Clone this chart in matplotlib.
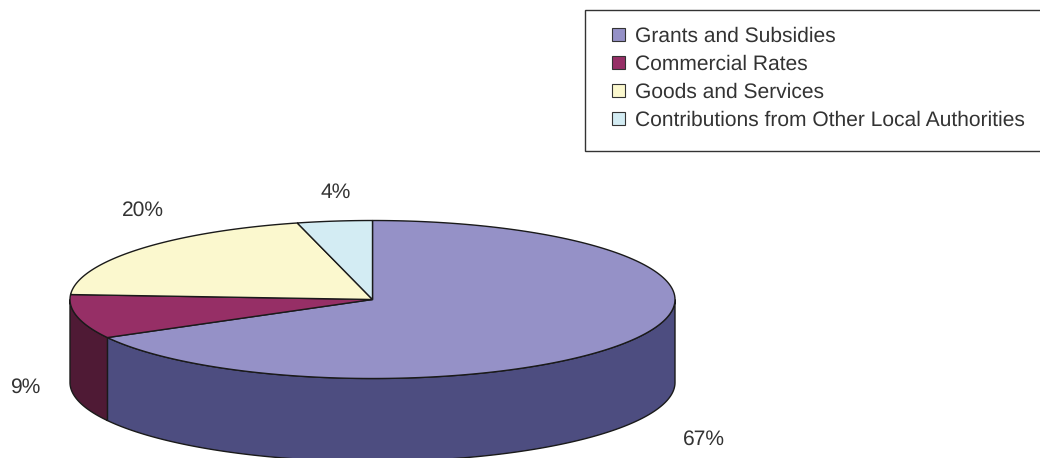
import numpy as np
import matplotlib
matplotlib.use("Agg")
import matplotlib.pyplot as plt
from matplotlib.patches import Patch, Polygon, Rectangle

categories = ["Grants and Subsidies", "Commercial Rates", "Goods and Services",
              "Contributions from Other Local Authorities"]
shares = [67, 9, 20, 4]
top_colors = ["#9591C7", "#962F66", "#FBF8CE", "#D3ECF3"]
side_colors = ["#4D4D80", "#4F1A35", "#FBF8CE", "#D3ECF3"]

# pixel layout of the fake 3d pie
cx, cy = 372.5, 299.5
rx, ry = 302.5, 79
depth = 83
label_pos = [(704, 439), (25, 387), (143, 210), (336, 192)]
edge = "#1a1a1a"
text_color = "#333333"

plt.rcParams["font.family"] = ["Liberation Sans", "DejaVu Sans"]
plt.rcParams["text.hinting"] = "no_hinting"
plt.rcParams["text.hinting_factor"] = 1


def rim(a0, a1, dy=0):
    # angles in degrees, clockwise from 12 o'clock
    t = np.radians(np.linspace(a0, a1, 200))
    return np.column_stack([cx + rx * np.sin(t), cy - ry * np.cos(t) + dy])


fig = plt.figure(figsize=(10.4, 4.58), dpi=100)
ax = fig.add_axes([0, 0, 1, 1])
ax.set_xlim(0, 1040)
ax.set_ylim(458, 0)
ax.axis("off")

bounds = np.cumsum([0] + shares) * 3.6

# side walls, only the front half of the rim shows
for i in range(len(shares)):
    a0 = max(bounds[i], 90)
    a1 = min(bounds[i + 1], 270)
    if a1 <= a0:
        continue
    pts = np.vstack([rim(a0, a1), rim(a0, a1, depth)[::-1]])
    ax.add_patch(Polygon(pts, closed=True, facecolor=side_colors[i], edgecolor=edge, linewidth=1.0))

# top face
for i in range(len(shares)):
    pts = np.vstack([[(cx, cy)], rim(bounds[i], bounds[i + 1])])
    ax.add_patch(Polygon(pts, closed=True, facecolor=top_colors[i], edgecolor=edge, linewidth=1.0))

for share, (x, y) in zip(shares, label_pos):
    ax.text(x, y, f"{share}%", ha="center", va="center", fontsize=15.4, color=text_color)

# legend box runs off the right edge of the picture
ax.add_patch(Rectangle((585, 10), 480, 141, facecolor="white", edgecolor="#333333", linewidth=1.0))
handles = [Patch(facecolor=c, edgecolor="#333333", linewidth=0.8) for c in top_colors]
ax.legend(handles, categories, loc="upper left", bbox_to_anchor=(612, 27),
          bbox_transform=ax.transData, frameon=False, fontsize=15.4,
          borderpad=0, borderaxespad=0, handlelength=0.6, handleheight=0.6,
          handletextpad=0.46, labelspacing=0.39, labelcolor=text_color)

fig.savefig("out.png", dpi=100)
